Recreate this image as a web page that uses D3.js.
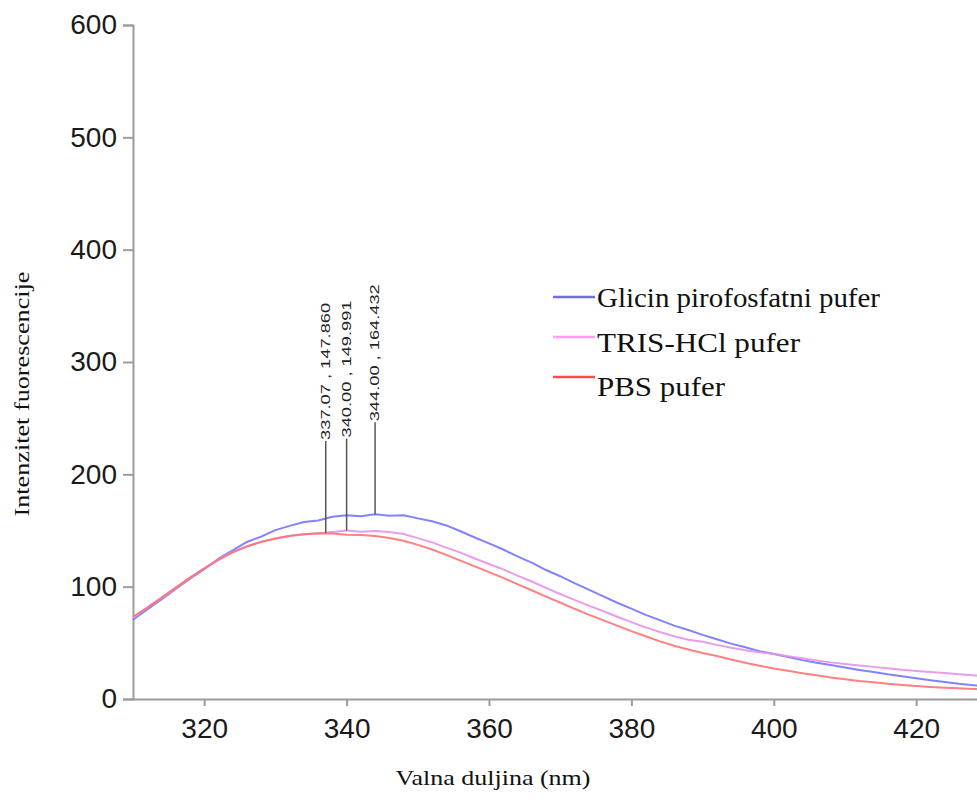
<!DOCTYPE html>
<html>
<head>
<meta charset="utf-8">
<script src="https://cdn.jsdelivr.net/npm/d3@7"></script>
<style>
  html, body { margin: 0; padding: 0; background: #fff; }
  svg { display: block; }
</style>
</head>
<body>
<svg id="chart" width="977" height="800"></svg>
<script>
// ---------- data ----------
const wavelengths = [310,312,314,316,318,320,322,324,326,328,330,332,334,336,338,340,342,344,346,348,350,352,354,356,358,360,362,364,366,368,370,372,374,376,378,380,382,384,386,388,390,392,394,396,398,400,402,404,406,408,410,412,414,416,418,420,422,424,426,428,430];

const glicinValues = [70.5,79.8,88.6,97.9,107.2,115.6,124.9,132.4,139.8,144.6,150.3,154.1,157.6,158.9,162.2,163.5,162.6,164.4,163.1,163.6,160.8,158.2,154.5,149.3,143.8,138.6,133.1,126.9,121.4,114.8,109.3,103.2,97.4,91.6,85.7,80.4,74.9,70.2,65.3,61.4,57.1,53.2,49.3,46.1,42.6,40.1,37.4,34.6,32.3,30.2,28.1,25.8,24.1,22.0,20.3,18.4,16.7,15.2,13.6,12.3,11.0];

const trisValues = [72.5,81.2,89.8,98.7,107.9,116.3,124.2,130.9,135.8,140.1,142.8,145.3,146.6,147.4,148.6,150.0,148.8,149.6,148.7,146.9,143.2,139.4,134.8,130.3,125.1,120.2,115.4,109.8,104.6,98.9,93.5,88.2,83.1,78.3,73.2,68.4,63.8,59.6,55.9,52.8,51.0,48.2,45.6,43.4,41.6,40.2,38.1,36.2,34.3,32.6,31.2,29.9,28.6,27.4,26.1,25.0,24.0,23.1,22.0,21.1,20.2];

const pbsValues = [73.2,81.4,90.3,99.1,108.0,116.1,123.8,130.6,135.9,139.7,142.9,145.2,146.7,147.6,147.3,146.2,146.0,145.1,143.4,140.8,137.2,133.1,128.3,123.2,118.1,112.9,107.8,102.3,96.8,91.2,85.9,80.3,75.1,70.2,65.3,60.4,55.9,51.3,47.4,44.1,41.0,38.2,35.1,32.3,29.6,27.2,25.1,23.0,21.1,19.2,17.6,16.1,14.9,13.6,12.5,11.6,10.7,10.0,9.5,9.0,8.5];

const seriesNames = ["Glicin pirofosfatni pufer", "TRIS-HCl pufer", "PBS pufer"];
const seriesColors = ["#7474ff", "#e592ea", "#ff7272"];
const legendColors = ["#6d6de6", "#ff9cff", "#ff4a4a"];

const peakX = [337.07, 340.00, 344.00];
const peakY = [147.860, 149.991, 164.432];
const peakLabels = ["337.07 , 147.860", "340.00 , 149.991", "344.00 , 164.432"];

const xTicks = [320, 340, 360, 380, 400, 420];
const yTicks = [0, 100, 200, 300, 400, 500, 600];

const xTitle = "Valna duljina (nm)";
const yTitle = "Intenzitet fuorescencije";

// ---------- layout ----------
const svg = d3.select("#chart");
svg.append("rect").attr("width", 977).attr("height", 800).attr("fill", "#fff");

const x = d3.scaleLinear().domain([310, 430]).range([133, 987.4]);
const y = d3.scaleLinear().domain([0, 600]).range([699, 25]);

const axisColor = "#9c9c9c";
const tickFont = "'Liberation Sans', Arial, sans-serif";

// X axis
const gx = svg.append("g").attr("transform", "translate(0,699)")
  .call(d3.axisBottom(x).tickValues(xTicks).tickSize(7).tickSizeOuter(0).tickPadding(12).tickFormat(d3.format("d")));
// Y axis
const gy = svg.append("g").attr("transform", "translate(133,0)")
  .call(d3.axisLeft(y).tickValues(yTicks).tickSize(10).tickSizeOuter(10).tickPadding(6).tickFormat(d3.format("d")));

[gx, gy].forEach(g => {
  g.select(".domain").attr("stroke", axisColor).attr("stroke-width", 2);
  g.selectAll(".tick line").attr("stroke", axisColor).attr("stroke-width", 2);
  g.selectAll(".tick text").attr("fill", "#1a1a1a").style("font-family", tickFont).style("font-size", "28px");
});

// Series lines
const allSeries = [glicinValues, trisValues, pbsValues];
const line = d3.line().x((d, i) => x(wavelengths[i])).y(d => y(d));
const plot = svg.append("g");
allSeries.forEach((vals, k) => {
  plot.append("path")
    .datum(vals)
    .attr("d", line)
    .attr("fill", "none")
    .attr("stroke", seriesColors[k])
    .attr("stroke-width", 2)
    .attr("stroke-linejoin", "round")
    .attr("opacity", 0.9);
});

// Peak annotations
const ann = svg.append("g");
peakX.forEach((px, i) => {
  const x0 = x(px), y0 = y(peakY[i]);
  const top = y0 - 92;
  ann.append("line")
    .attr("x1", x0).attr("x2", x0).attr("y1", y0).attr("y2", top)
    .attr("stroke", "#555").attr("stroke-width", 1.5);
  ann.append("text")
    .attr("transform", `translate(${x0 + 4},${top - 1}) rotate(-90)`)
    .attr("text-anchor", "start")
    .attr("textLength", 137)
    .attr("lengthAdjust", "spacingAndGlyphs")
    .style("font-family", tickFont)
    .style("font-size", "13px")
    .attr("fill", "#222")
    .text(peakLabels[i]);
});

// Legend
const serif = "'Liberation Serif', 'Times New Roman', serif";
const legendWidths = [283, 203, 128];
const leg = svg.append("g");
seriesNames.forEach((name, i) => {
  const base = 307 + i * 44.5;
  const ly = 297 + i * 40;
  leg.append("line")
    .attr("x1", 553).attr("x2", 595).attr("y1", ly).attr("y2", ly)
    .attr("stroke", legendColors[i]).attr("stroke-width", 2.5);
  leg.append("text")
    .attr("x", 597).attr("y", base)
    .attr("textLength", legendWidths[i])
    .attr("lengthAdjust", "spacingAndGlyphs")
    .style("font-family", serif)
    .style("font-size", "28px")
    .attr("fill", "#111")
    .text(name);
});

// Axis titles
svg.append("text")
  .attr("x", 493).attr("y", 785)
  .attr("text-anchor", "middle")
  .attr("textLength", 195)
  .attr("lengthAdjust", "spacingAndGlyphs")
  .style("font-family", serif).style("font-size", "22px")
  .attr("fill", "#111")
  .text(xTitle);

svg.append("text")
  .attr("transform", "translate(29,394) rotate(-90)")
  .attr("text-anchor", "middle")
  .attr("textLength", 245)
  .attr("lengthAdjust", "spacingAndGlyphs")
  .style("font-family", serif).style("font-size", "22px")
  .attr("fill", "#111")
  .text(yTitle);
</script>
</body>
</html>
